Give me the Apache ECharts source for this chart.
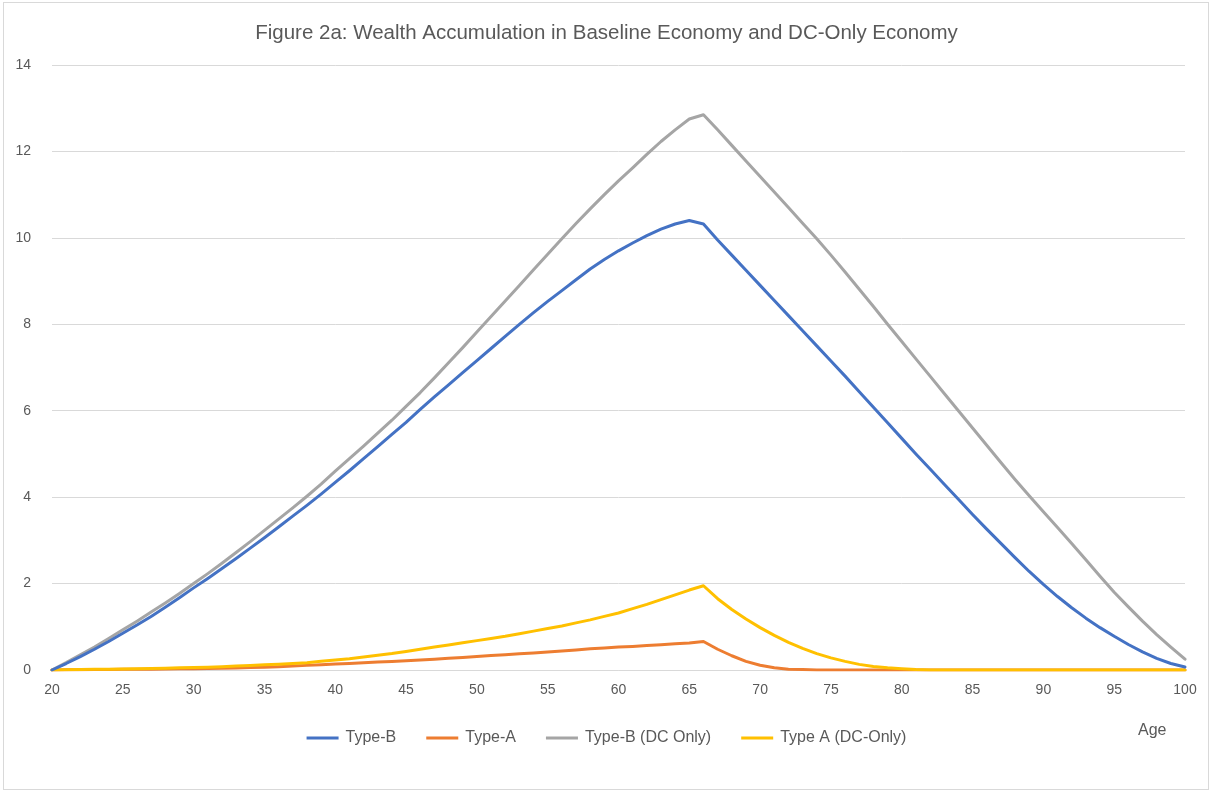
<!DOCTYPE html>
<html>
<head>
<meta charset="utf-8">
<script src="https://cdn.jsdelivr.net/npm/echarts@6/dist/echarts.min.js"></script>
<style>
  html, body { margin: 0; padding: 0; background: #fff; }
  #frame { position: absolute; left: 3px; top: 2px; width: 1206px; height: 788px; border: 1px solid #d9d9d9; box-sizing: border-box; }
  #chart { position: absolute; left: 0; top: 0; width: 1213px; height: 794px; }
</style>
</head>
<body>
<div id="frame"></div>
<div id="chart"></div>
<script>
// ages 20..100
const ages = []
for (let a = 20; a <= 100; a++) ages.push(String(a))

const typeB = [
  0, 0.15, 0.31, 0.48, 0.66, 0.85, 1.04, 1.24, 1.45, 1.67,
  1.9, 2.12, 2.35, 2.58, 2.82, 3.06, 3.31, 3.56, 3.81, 4.07,
  4.34, 4.61, 4.89, 5.17, 5.45, 5.73, 6.03, 6.32, 6.6, 6.88,
  7.16, 7.44, 7.72, 8.0, 8.27, 8.53, 8.78, 9.03, 9.28, 9.5,
  9.7, 9.88, 10.05, 10.2, 10.32, 10.4, 10.32, 9.95, 9.6, 9.25,
  8.9, 8.55, 8.2, 7.85, 7.5, 7.15, 6.8, 6.44, 6.08, 5.72,
  5.36, 5.0, 4.65, 4.3, 3.95, 3.6, 3.26, 2.93, 2.6, 2.28,
  1.98, 1.7, 1.44, 1.2, 0.98, 0.78, 0.59, 0.42, 0.27, 0.15,
  0.07
]

const typeA = [
  0, 0.003, 0.006, 0.01, 0.012, 0.015, 0.018, 0.02, 0.023, 0.027,
  0.03, 0.035, 0.04, 0.048, 0.056, 0.065, 0.078, 0.092, 0.107, 0.122,
  0.138, 0.152, 0.168, 0.183, 0.198, 0.213, 0.23, 0.25, 0.27, 0.29,
  0.31, 0.335, 0.355, 0.375, 0.395, 0.415, 0.44, 0.465, 0.49, 0.51,
  0.53, 0.545, 0.565, 0.585, 0.605, 0.625, 0.66, 0.48, 0.33, 0.2,
  0.11, 0.05, 0.02, 0.01, 0, 0, 0, 0, 0, 0,
  0, 0, 0, 0, 0, 0, 0, 0, 0, 0,
  0, 0, 0, 0, 0, 0, 0, 0, 0, 0,
  0
]

const typeBDC = [
  0, 0.17, 0.35, 0.53, 0.73, 0.93, 1.13, 1.34, 1.55, 1.77,
  2.0, 2.23, 2.47, 2.72, 2.97, 3.23, 3.49, 3.75, 4.02, 4.3,
  4.6, 4.89, 5.18, 5.48, 5.78, 6.1, 6.42, 6.76, 7.11, 7.46,
  7.82, 8.18, 8.54, 8.9, 9.26, 9.62, 9.98, 10.33, 10.67, 11.0,
  11.32, 11.62, 11.93, 12.23, 12.5, 12.75, 12.85, 12.5, 12.14, 11.78,
  11.42, 11.06, 10.7, 10.34, 9.98, 9.6, 9.21, 8.81, 8.41, 8.0,
  7.6, 7.2, 6.8, 6.4, 6.0, 5.6, 5.2, 4.8, 4.41, 4.03,
  3.66, 3.3, 2.93, 2.55, 2.17, 1.8, 1.46, 1.13, 0.82, 0.53,
  0.25
]

const typeADC = [
  0, 0.005, 0.01, 0.015, 0.02, 0.025, 0.03, 0.035, 0.04, 0.05,
  0.055, 0.065, 0.075, 0.09, 0.105, 0.12, 0.135, 0.15, 0.17, 0.2,
  0.23, 0.26, 0.3, 0.34, 0.38, 0.43, 0.48, 0.53, 0.58, 0.63,
  0.68, 0.73, 0.78, 0.84, 0.9, 0.96, 1.02, 1.09, 1.16, 1.24,
  1.32, 1.42, 1.52, 1.63, 1.74, 1.85, 1.95, 1.65, 1.4, 1.18,
  0.98, 0.8, 0.64, 0.5, 0.38, 0.28, 0.2, 0.13, 0.08, 0.05,
  0.03, 0.01, 0, 0, 0, 0, 0, 0, 0, 0,
  0, 0, 0, 0, 0, 0, 0, 0, 0, 0,
  0
]

const seriesNames = ['Type-B', 'Type-A', 'Type-B (DC Only)', 'Type A (DC-Only)']
const seriesColors = ['#4472C4', '#ED7D31', '#A5A5A5', '#FFC000']
const seriesData = [typeB, typeA, typeBDC, typeADC]

const FONT = '"Liberation Sans", Arial, sans-serif'
const TEXT = '#595959'

const chart = echarts.init(document.getElementById('chart'))

const series = seriesNames.map((name, i) => ({
  name,
  type: 'line',
  data: seriesData[i],
  symbol: 'none',
  smooth: false,
  lineStyle: { width: 3, color: seriesColors[i], cap: 'round', join: 'round' },
  itemStyle: { color: seriesColors[i] },
  z: i === 0 ? 3 : 2,
}))

chart.setOption({
  animation: false,
  backgroundColor: 'transparent',
  textStyle: { fontFamily: FONT },
  title: {
    text: 'Figure 2a: Wealth Accumulation in Baseline Economy and DC-Only Economy',
    left: 'center',
    top: 18,
    textStyle: { color: TEXT, fontSize: 20.5, fontWeight: 'normal', fontFamily: FONT },
  },
  grid: { left: 52, right: 28, top: 65, bottom: 124, containLabel: false },
  xAxis: {
    type: 'category',
    data: ages,
    boundaryGap: false,
    axisLine: { lineStyle: { color: '#d9d9d9', width: 1 } },
    axisTick: { show: false },
    axisLabel: { color: TEXT, fontSize: 14, interval: 4, margin: 13 },
    splitLine: { show: false },
  },
  yAxis: {
    type: 'value',
    min: 0,
    max: 14,
    interval: 2,
    axisLine: { show: false },
    axisTick: { show: false },
    axisLabel: { color: TEXT, fontSize: 14, margin: 21 },
    splitLine: { lineStyle: { color: '#d9d9d9', width: 1 } },
  },
  legend: {
    data: seriesNames,
    bottom: 43,
    left: 'center',
    icon: 'rect',
    itemWidth: 32,
    itemHeight: 3,
    itemGap: 30,
    textStyle: { color: TEXT, fontSize: 16, fontFamily: FONT, padding: [0, 0, 0, 2] },
  },
  graphic: [{
    type: 'text',
    left: 1138,
    top: 723,
    style: { text: 'Age', fill: TEXT, fontSize: 16, fontFamily: FONT },
  }],
  series,
})
</script>
</body>
</html>
